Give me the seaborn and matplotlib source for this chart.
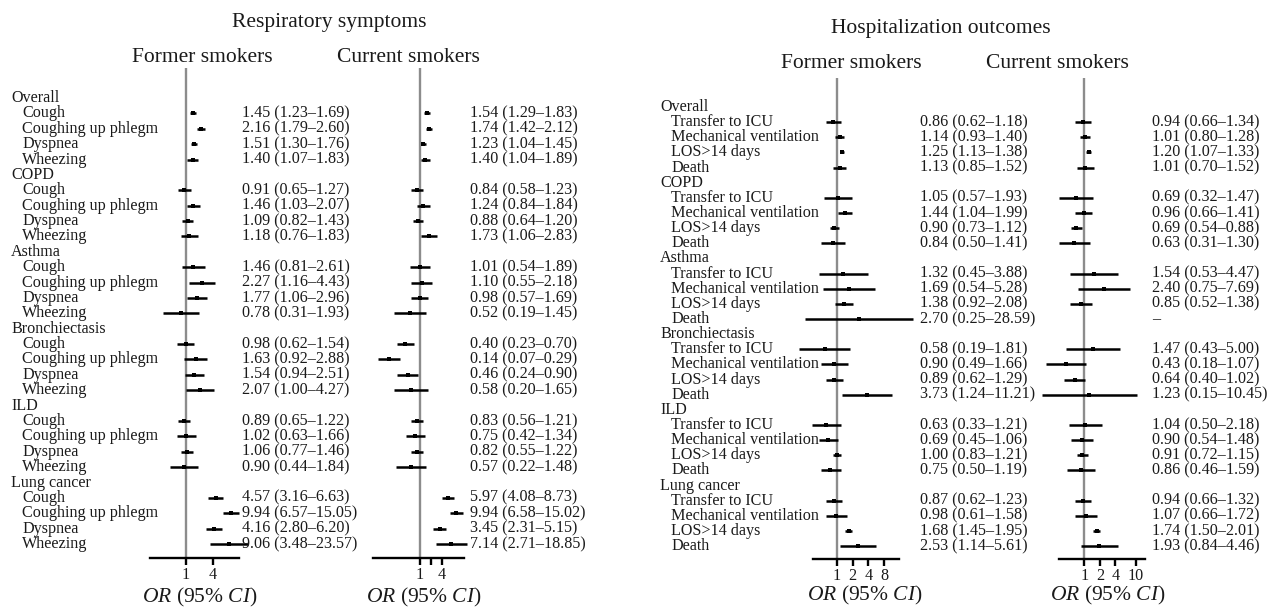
import numpy as np
import pandas as pd
import matplotlib
matplotlib.use("Agg")
import matplotlib.pyplot as plt
import matplotlib.transforms as mtransforms
from matplotlib.ticker import NullLocator
import seaborn as sns

groups = ["Overall", "COPD", "Asthma", "Bronchiectasis", "ILD", "Lung cancer"]
symptoms = ["Cough", "Coughing up phlegm", "Dyspnea", "Wheezing"]
outcomes = ["Transfer to ICU", "Mechanical ventilation", "LOS>14 days", "Death"]

# Respiratory symptoms (4 symptoms per group, groups in order above)
resp_former_or = [1.45, 2.16, 1.51, 1.40, 0.91, 1.46, 1.09, 1.18, 1.46, 2.27, 1.77, 0.78,
                  0.98, 1.63, 1.54, 2.07, 0.89, 1.02, 1.06, 0.90, 4.57, 9.94, 4.16, 9.06]
resp_former_lo = [1.23, 1.79, 1.30, 1.07, 0.65, 1.03, 0.82, 0.76, 0.81, 1.16, 1.06, 0.31,
                  0.62, 0.92, 0.94, 1.00, 0.65, 0.63, 0.77, 0.44, 3.16, 6.57, 2.80, 3.48]
resp_former_hi = [1.69, 2.60, 1.76, 1.83, 1.27, 2.07, 1.43, 1.83, 2.61, 4.43, 2.96, 1.93,
                  1.54, 2.88, 2.51, 4.27, 1.22, 1.66, 1.46, 1.84, 6.63, 15.05, 6.20, 23.57]
resp_current_or = [1.54, 1.74, 1.23, 1.40, 0.84, 1.24, 0.88, 1.73, 1.01, 1.10, 0.98, 0.52,
                   0.40, 0.14, 0.46, 0.58, 0.83, 0.75, 0.82, 0.57, 5.97, 9.94, 3.45, 7.14]
resp_current_lo = [1.29, 1.42, 1.04, 1.04, 0.58, 0.84, 0.64, 1.06, 0.54, 0.55, 0.57, 0.19,
                   0.23, 0.07, 0.24, 0.20, 0.56, 0.42, 0.55, 0.22, 4.08, 6.58, 2.31, 2.71]
resp_current_hi = [1.83, 2.12, 1.45, 1.89, 1.23, 1.84, 1.20, 2.83, 1.89, 2.18, 1.69, 1.45,
                   0.70, 0.29, 0.90, 1.65, 1.21, 1.34, 1.22, 1.48, 8.73, 15.02, 5.15, 18.85]

# Hospitalization outcomes (4 outcomes per group)
hosp_former_or = [0.86, 1.14, 1.25, 1.13, 1.05, 1.44, 0.90, 0.84, 1.32, 1.69, 1.38, 2.70,
                  0.58, 0.90, 0.89, 3.73, 0.63, 0.69, 1.00, 0.75, 0.87, 0.98, 1.68, 2.53]
hosp_former_lo = [0.62, 0.93, 1.13, 0.85, 0.57, 1.04, 0.73, 0.50, 0.45, 0.54, 0.92, 0.25,
                  0.19, 0.49, 0.62, 1.24, 0.33, 0.45, 0.83, 0.50, 0.62, 0.61, 1.45, 1.14]
hosp_former_hi = [1.18, 1.40, 1.38, 1.52, 1.93, 1.99, 1.12, 1.41, 3.88, 5.28, 2.08, 28.59,
                  1.81, 1.66, 1.29, 11.21, 1.21, 1.06, 1.21, 1.19, 1.23, 1.58, 1.95, 5.61]
hosp_current_or = [0.94, 1.01, 1.20, 1.01, 0.69, 0.96, 0.69, 0.63, 1.54, 2.40, 0.85, np.nan,
                   1.47, 0.43, 0.64, 1.23, 1.04, 0.90, 0.91, 0.86, 0.94, 1.07, 1.74, 1.93]
hosp_current_lo = [0.66, 0.80, 1.07, 0.70, 0.32, 0.66, 0.54, 0.31, 0.53, 0.75, 0.52, np.nan,
                   0.43, 0.18, 0.40, 0.15, 0.50, 0.54, 0.72, 0.46, 0.66, 0.66, 1.50, 0.84]
hosp_current_hi = [1.34, 1.28, 1.33, 1.52, 1.47, 1.41, 0.88, 1.30, 4.47, 7.69, 1.38, np.nan,
                   5.00, 1.07, 1.02, 10.45, 2.18, 1.48, 1.15, 1.59, 1.32, 1.72, 2.01, 4.46]


def build(items, or_, lo, hi):
    rows = []
    for i, g in enumerate(groups):
        for j, it in enumerate(items):
            k = i * len(items) + j
            rows.append(dict(group=g, item=it, row=i * (len(items) + 1) + j + 1,
                             OR=or_[k], lo=lo[k], hi=hi[k]))
    return pd.DataFrame(rows)


def fmt(r):
    if np.isnan(r.OR):
        return "\u2013"
    return f"{r.OR:.2f} ({r.lo:.2f}\u2013{r.hi:.2f})"


resp_f = build(symptoms, resp_former_or, resp_former_lo, resp_former_hi)
resp_c = build(symptoms, resp_current_or, resp_current_lo, resp_current_hi)
hosp_f = build(outcomes, hosp_former_or, hosp_former_lo, hosp_former_hi)
hosp_c = build(outcomes, hosp_current_or, hosp_current_lo, hosp_current_hi)

sns.set_style("white")
plt.rcParams["font.family"] = ["Liberation Serif", "DejaVu Serif"]
plt.rcParams["mathtext.fontset"] = "custom"
plt.rcParams["mathtext.rm"] = "Liberation Serif"
plt.rcParams["mathtext.it"] = "Liberation Serif:italic"

W, H = 1268, 609
fig = plt.figure(figsize=(W / 100, H / 100), dpi=100)
FS = 11.6
TFS = 15.5
TXT = "#1a1a1a"


def px_axes(x0, x1, ytop, ybot):
    return fig.add_axes([x0 / W, 1 - ybot / H, (x1 - x0) / W, (ybot - ytop) / H])


def forest(ax, df, xlim, ylim, ticks, labels):
    ax.set_xscale("log")
    ax.axvline(1, color="#8c8c8c", lw=1.7, zorder=0)
    ax.hlines(df["row"], df["lo"], df["hi"], color="black", lw=1.8, clip_on=False)
    sns.scatterplot(data=df, x="OR", y="row", marker="s", color="black", s=10,
                    linewidth=0, ax=ax, clip_on=False, legend=False, zorder=3)
    ax.set_xlim(*xlim)
    ax.set_ylim(*ylim)
    for s in ["left", "top", "right"]:
        ax.spines[s].set_visible(False)
    ax.spines["bottom"].set_linewidth(1.7)
    ax.spines["bottom"].set_color("black")
    ax.set_yticks([])
    ax.set_xticks(ticks)
    ax.set_xticklabels(labels)
    ax.xaxis.set_minor_locator(NullLocator())
    ax.tick_params(axis="x", bottom=True, direction="out", length=5, width=1.7,
                   labelsize=FS, pad=1.5, color="black", labelcolor=TXT)
    ax.set_xlabel("")
    ax.set_ylabel("")
    ax.patch.set_alpha(0)


def labels_and_values(ax, df_f, df_c, x_head, x_item, x_val_f, x_val_c):
    tr = mtransforms.blended_transform_factory(fig.transFigure, ax.transData)
    kw = dict(transform=tr, fontsize=FS, va="center", ha="left", color=TXT)
    for g in groups:
        sub = df_f[df_f["group"] == g]
        ax.text(x_head / W, sub["row"].min() - 1, g, **kw)
    for (_, rf), (_, rc) in zip(df_f.iterrows(), df_c.iterrows()):
        ax.text(x_item / W, rf.row, rf["item"], **kw)
        ax.text(x_val_f / W, rf.row, fmt(rf), **kw)
        ax.text(x_val_c / W, rc.row, fmt(rc), **kw)


# Respiratory symptoms panel
ylim_l = ((558 - 98) / 15.38, (68 - 98) / 15.38)
ax1 = px_axes(150, 239, 68, 558)
forest(ax1, resp_f, (0.157, 15.2), ylim_l, [1, 4], ["1", "4"])
ax2 = px_axes(373, 464, 68, 558)
forest(ax2, resp_c, (0.0517, 16), ylim_l, [1, 2, 4], ["1", "", "4"])
labels_and_values(ax1, resp_f, resp_c, 11, 22, 242, 470)

# Hospitalization outcomes panel
ylim_r = ((559 - 107) / 15.14, (78 - 107) / 15.14)
ax3 = px_axes(813, 899, 78, 559)
forest(ax3, hosp_f, (0.349, 15.5), ylim_r, [1, 2, 4, 8], ["1", "2", "4", "8"])
ax4 = px_axes(1059, 1145, 78, 559)
forest(ax4, hosp_c, (0.317, 15.3), ylim_r, [1, 2, 4, 10], ["1", "2", "4", "10"])
labels_and_values(ax3, hosp_f, hosp_c, 660, 671, 920, 1152)


# titles
def ftext(x, y, s):
    fig.text(x / W, 1 - y / H, s, ha="center", va="center", fontsize=TFS, color=TXT)


ftext(329, 23, "Respiratory symptoms")
ftext(202, 57, "Former smokers")
ftext(408, 57, "Current smokers")
ftext(941, 29, "Hospitalization outcomes")
ftext(851, 63, "Former smokers")
ftext(1057, 63, "Current smokers")
xlab = r"$\mathit{OR}$ (95% $\mathit{CI}$)"
for x, y in [(200, 597), (424, 597), (865, 595), (1108, 595)]:
    ftext(x, y, xlab)

fig.savefig("out.png", dpi=100)
